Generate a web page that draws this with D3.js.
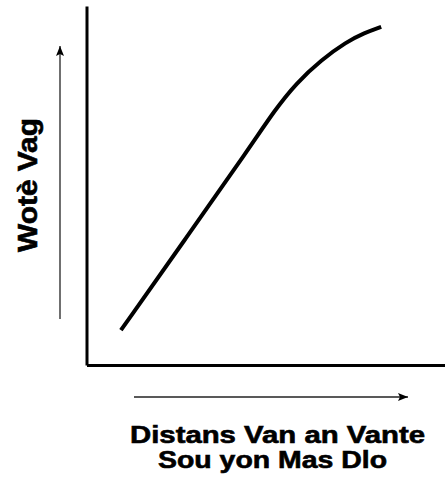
<!DOCTYPE html>
<html>
<head>
<meta charset="utf-8">
<script src="https://cdn.jsdelivr.net/npm/d3@7"></script>
<style>
  body { margin: 0; background: #fff; }
  text { font-family: "Liberation Sans", Arial, Helvetica, sans-serif; font-weight: bold; fill: #000; stroke: #000; stroke-width: 0.6; }
</style>
</head>
<body>
<svg width="445" height="483"></svg>
<script>
// curve (arbitrary 0-100 units)
const distance   = [9.6, 27.8, 45.6, 52.5, 58.5, 65.5, 72.5, 77.5, 82.2];
const waveHeight = [9.7, 35.4, 60.7, 71.0, 78.5, 85.0, 90.0, 92.5, 94.2];

const xLabelLines = ["Distans Van an Vante", "Sou yon Mas Dlo"];
const yLabel = "Wotè Vag";

let svg = d3.select("svg"),
    width = +svg.attr("width"),
    height = +svg.attr("height");

let margin = {top: 6, right: 0, bottom: 118, left: 86.5};

let x = d3.scaleLinear().domain([0, 100]).range([margin.left, width - margin.right]);
let y = d3.scaleLinear().domain([0, 100]).range([height - margin.bottom, margin.top]);

// axes without ticks, just the domain lines
svg.append("g")
    .attr("transform", "translate(0," + y(0) + ")")
    .call(d3.axisBottom(x).ticks(0).tickSizeOuter(0))
    .call(g => g.select(".domain").attr("stroke", "#000").attr("stroke-width", 3));

svg.append("g")
    .attr("transform", "translate(" + x(0) + ",0)")
    .call(d3.axisLeft(y).ticks(0).tickSizeOuter(0))
    .call(g => g.select(".domain").attr("stroke", "#000").attr("stroke-width", 3));

// the curve
let points = distance.map((d, i) => [d, waveHeight[i]]);
let line = d3.line()
    .x(d => x(d[0]))
    .y(d => y(d[1]))
    .curve(d3.curveBasis);

svg.append("path")
    .datum(points)
    .attr("fill", "none")
    .attr("stroke", "#000")
    .attr("stroke-width", 4)
    .attr("d", line);

// direction arrows
let defs = svg.append("defs");
defs.append("marker")
    .attr("id", "head")
    .attr("viewBox", "0 0 10 8")
    .attr("refX", 10).attr("refY", 4)
    .attr("markerWidth", 10).attr("markerHeight", 8)
    .attr("markerUnits", "userSpaceOnUse")
    .attr("orient", "auto")
    .append("path")
    .attr("d", "M0,0 L10,4 L0,8 L2,4 Z")
    .attr("fill", "#000");

// x arrow
svg.append("line")
    .attr("x1", 134).attr("y1", 397)
    .attr("x2", 408).attr("y2", 397)
    .attr("stroke", "#222").attr("stroke-width", 1.3)
    .attr("marker-end", "url(#head)");

// y arrow
svg.append("line")
    .attr("x1", 60).attr("y1", 319)
    .attr("x2", 60).attr("y2", 46)
    .attr("stroke", "#222").attr("stroke-width", 1.3)
    .attr("marker-end", "url(#head)");

// x label, two lines
let xl = [
    {cx: 277.5, base: 443, len: 295},
    {cx: 272.5, base: 468, len: 229}
];
svg.selectAll(".xlabel")
    .data(xLabelLines)
    .enter().append("text")
    .attr("class", "xlabel")
    .attr("x", (d, i) => xl[i].cx - xl[i].len / 2)
    .attr("y", (d, i) => xl[i].base)
    .attr("font-size", 23.5)
    .attr("textLength", (d, i) => xl[i].len)
    .attr("lengthAdjust", "spacingAndGlyphs")
    .text(d => d);

// y label
svg.append("text")
    .attr("transform", "translate(37,252) rotate(-90)")
    .attr("x", 0).attr("y", 0)
    .attr("font-size", 28.5)
    .attr("textLength", 134)
    .attr("lengthAdjust", "spacingAndGlyphs")
    .text(yLabel);
</script>
</body>
</html>
